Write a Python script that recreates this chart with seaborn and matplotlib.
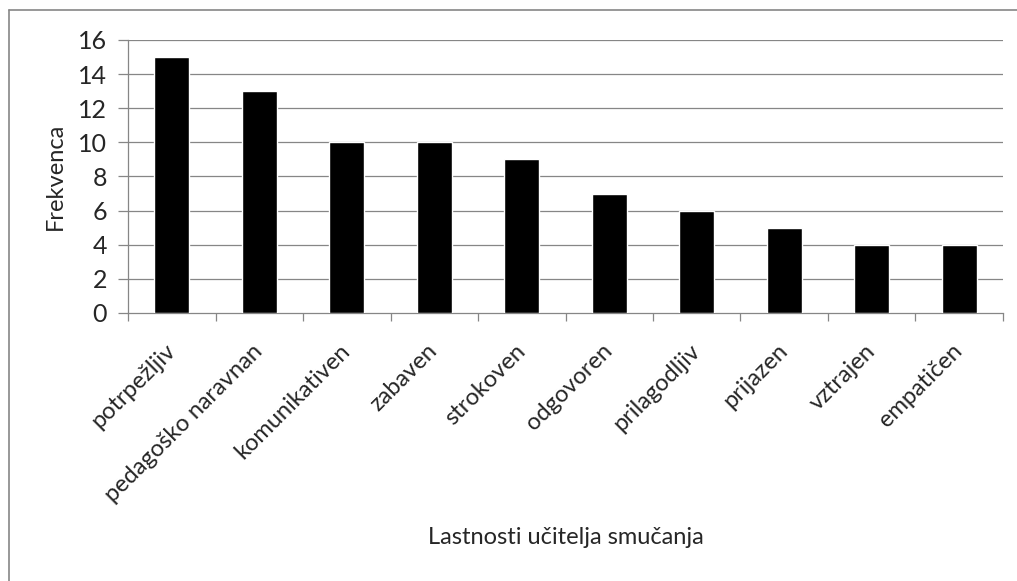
import matplotlib
matplotlib.use('Agg')
import matplotlib.pyplot as plt
import seaborn as sns
from matplotlib.lines import Line2D

lastnosti = ['potrpežljiv', 'pedagoško naravnan', 'komunikativen', 'zabaven', 'strokoven',
             'odgovoren', 'prilagodljiv', 'prijazen', 'vztrajen', 'empatičen']
frekvenca = [15, 13, 10, 10, 9, 7, 6, 5, 4, 4]
y_ticks = [0, 2, 4, 6, 8, 10, 12, 14, 16]

sns.set_style('white')
plt.rcParams['font.family'] = ['Lato', 'DejaVu Sans']

fig = plt.figure(figsize=(10.17, 5.81), dpi=100)
ax = fig.add_axes([0.1259, 0.4613, 0.8603, 0.4699])

sns.barplot(x=lastnosti, y=frekvenca, color='black', width=0.4, saturation=1, ax=ax, zorder=3)

grid_col = '#868686'
ax.set_ylim(0, 16)
ax.set_xlim(-0.5, len(lastnosti) - 0.5)
ax.set_yticks(y_ticks)
for t in y_ticks[1:]:
    ax.axhline(t, color=grid_col, lw=0.9, zorder=1)

for s in ['top', 'right']:
    ax.spines[s].set_visible(False)
for s in ['left', 'bottom']:
    ax.spines[s].set_color(grid_col)
    ax.spines[s].set_linewidth(0.9)

# tick marks between categories
ax.set_xticks([i - 0.5 for i in range(len(lastnosti) + 1)], minor=True)
ax.tick_params(axis='x', which='major', length=0, pad=25)
ax.tick_params(axis='x', which='minor', length=6, color=grid_col, width=0.9, direction='out')
ax.tick_params(axis='y', length=7, color=grid_col, width=0.9, direction='out', labelsize=18, pad=8)
ax.set_xticks(range(len(lastnosti)))
ax.set_xticklabels(lastnosti, rotation=45, ha='right', va='center', rotation_mode='anchor', fontsize=17)
ax.xaxis.set_ticks_position('bottom')
ax.yaxis.set_ticks_position('left')

ax.set_xlabel('Lastnosti učitelja smučanja', fontsize=17)
ax.xaxis.set_label_coords(0.5, -0.785)
ax.set_ylabel('Frekvenca', fontsize=17)
ax.yaxis.set_label_coords(-0.071, 0.5)

# chart-area frame (only top and left edges are visible in the crop)
fig.add_artist(Line2D([0.0085, 0.0085], [0.0, 0.983], transform=fig.transFigure, color=grid_col, lw=1.2))
fig.add_artist(Line2D([0.0085, 1.0], [0.983, 0.983], transform=fig.transFigure, color=grid_col, lw=1.2))

fig.savefig('out.png', dpi=100)
